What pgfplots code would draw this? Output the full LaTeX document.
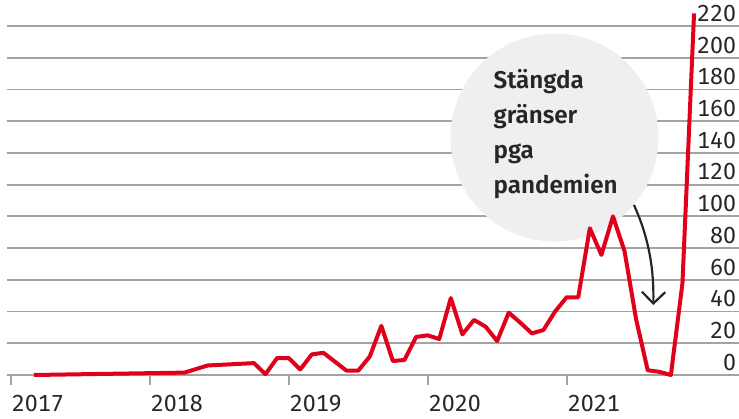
\documentclass[border=0pt]{standalone}
\usepackage{fontspec}
\setmainfont{Fira Sans}[BoldFont=* SemiBold]
\newfontfamily\tickfont{Fira Sans}[Numbers=Monospaced]
\usepackage{pgfplots}
\pgfplotsset{compat=1.18}
\usetikzlibrary{arrows.meta}
\definecolor{gridc}{HTML}{A3A3A3}
\definecolor{redc}{HTML}{E0001B}
\definecolor{circc}{HTML}{EFEFEF}
\definecolor{txt}{HTML}{262626}
\pgfplotstableread{
m v
2 0
15 1.5
17 6
21 7.5
22 0.5
23 10.7
24 10.7
25 3.5
26 13
27 14
29 2.7
30 2.7
31 11.6
32 31
33 8.8
34 9.5
35 24
36 25
37 22.7
38 48.5
39 25.6
40 34.7
41 30.5
42 21.4
43 39.3
44 33
45 26.2
46 28.4
47 40
48 49
49 49
50 92.5
51 75.7
52 100
53 78
54 35
55 3
56 2
57 0
58 58
59 228
}\datatable
\begin{document}
\begin{tikzpicture}
\begin{axis}[
  name=ax,
  scale only axis, width=366.15pt, height=187.5pt,
  xmin=-0.345, xmax=62.88, ymin=0, ymax=236.4,
  clip=false,
  axis line style={draw=none},
  xtick={0,12,24,36,48}, xticklabels={2017,2018,2019,2020,2021},
  xtick pos=left,
  ytick={0,20,...,220},
  yticklabel pos=right,
  ytick style={draw=none},
  ymajorgrids, grid style={gridc, line width=0.9pt},
  tick align=outside, major tick length=5pt,
  xtick style={gridc, line width=0.9pt},
  tick label style={font=\tickfont\fontsize{11.6}{13}\selectfont, text=txt},
  xticklabel style={anchor=north west, inner sep=0pt, xshift=0.4pt, yshift=-5pt},
  yticklabel style={anchor=south east, inner sep=0pt, xshift=-6.2pt, yshift=2pt},
  /pgf/number format/assume math mode=true,
]
\fill[circc] (axis cs:46.95,149.7) circle[radius=52pt];
\addplot[redc, line width=2pt, line join=round, no marks] table[x=m, y=v] {\datatable};
\begin{scope}[every node/.style={anchor=base west, inner sep=0pt, text=txt, font=\fontsize{12.1}{14}\selectfont\bfseries}]
\node at (axis cs:41.66,180.7) {Stängda};
\node at (axis cs:41.66,158.6) {gränser};
\node at (axis cs:41.66,136.7) {pga};
\node at (axis cs:41.66,114.7) {pandemien};
\end{scope}
\draw[txt, line width=1.1pt, -{Straight Barb[length=5.8pt, width=11.7pt, line width=1.1pt]}]
  (axis cs:53.81,107.2) .. controls (axis cs:55.19,85.1) and (axis cs:55.54,64.9) .. (axis cs:55.48,44.1);
\end{axis}
\pgfresetboundingbox
\path (ax.south west) ++(-3.35pt,-21.5pt) rectangle (ax.north east);
\end{tikzpicture}
\end{document}
